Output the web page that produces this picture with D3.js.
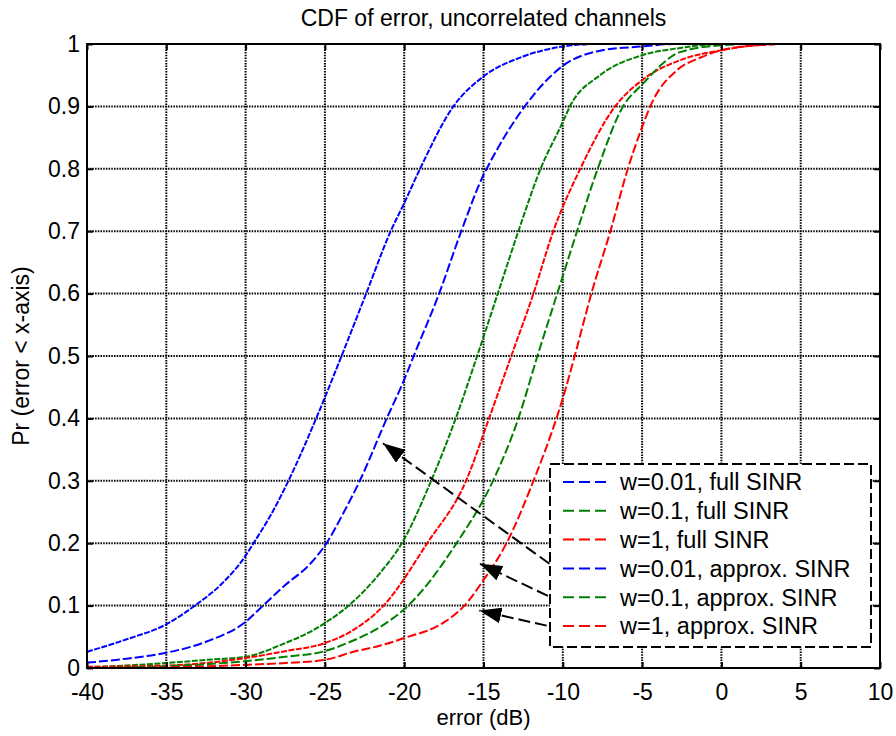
<!DOCTYPE html>
<html>
<head>
<meta charset="utf-8">
<script src="https://cdn.jsdelivr.net/npm/d3@7"></script>
<style>
	body { margin: 0; background: #fff; }
	svg text { font-family: "Liberation Sans", Arial, sans-serif; fill: #000; }
</style>
</head>
<body>
<div id="chart"></div>
<script>
'use strict';

// Data: [error dB, Pr]
var w001Full = [[-40,0.026],[-37.5,0.046],[-35,0.070],[-33.2,0.1],[-31.5,0.135],[-30,0.18],[-29.5,0.2],[-28.35,0.248],[-27.3,0.3],[-25.55,0.4],[-23.95,0.5],[-22.4,0.6],[-20.85,0.7],[-20,0.745],[-19,0.8],[-16.9,0.9],[-15,0.948],[-12.5,0.98],[-10,0.996],[-8,1],[10,1]];
var w01Full = [[-40,0.001],[-37.5,0.004],[-35,0.008],[-32.5,0.013],[-30,0.018],[-27.5,0.04],[-26,0.057],[-25,0.072],[-23.5,0.1],[-21.5,0.153],[-20.15,0.2],[-18.3,0.3],[-16.75,0.4],[-15.4,0.5],[-14.1,0.6],[-12.8,0.7],[-11.4,0.8],[-10,0.875],[-9.55,0.9],[-7.65,0.95],[-5,0.982],[-2.5,0.994],[-1.3,0.998],[0,1],[10,1]];
var w1Full = [[-40,0.002],[-35,0.004],[-32.5,0.008],[-30,0.016],[-27.5,0.027],[-25,0.04],[-23.4,0.058],[-21.3,0.1],[-18.55,0.2],[-16.1,0.3],[-14.65,0.4],[-13.25,0.5],[-11.85,0.6],[-10.6,0.7],[-8.9,0.8],[-6.7,0.9],[-5,0.942],[-2.5,0.975],[0,0.99],[2.2,0.998],[4,1],[10,1]];
var w001Approx = [[-40,0.0085],[-37.5,0.015],[-35,0.0245],[-32.5,0.042],[-30,0.074],[-28.9,0.1],[-27.5,0.133],[-26,0.165],[-24.9,0.2],[-23.8,0.25],[-22.8,0.3],[-21.1,0.4],[-20,0.462],[-19.4,0.5],[-17.8,0.6],[-16.4,0.7],[-15,0.79],[-14.8,0.8],[-12.4,0.9],[-10,0.965],[-7.5,0.99],[-5,0.996],[-3,1],[10,1]];
var w01Approx = [[-40,0],[-37.5,0.001],[-35,0.003],[-32.5,0.006],[-30,0.011],[-27.5,0.018],[-25,0.027],[-23.4,0.042],[-21.5,0.066],[-19.75,0.1],[-16.7,0.2],[-14.4,0.3],[-12.8,0.4],[-11.6,0.5],[-10.35,0.6],[-9.1,0.7],[-7.8,0.8],[-6.2,0.9],[-5,0.935],[-2.6,0.987],[0,0.998],[2,1],[10,1]];
var w1Approx = [[-40,0],[-35,0.001],[-30,0.005],[-27.5,0.008],[-25,0.013],[-23.2,0.026],[-21.5,0.036],[-20,0.048],[-17.5,0.073],[-16.2,0.1],[-15,0.141],[-13.55,0.2],[-11.85,0.3],[-10.4,0.4],[-10,0.432],[-9.25,0.5],[-8.2,0.6],[-7,0.7],[-5.9,0.8],[-5.1,0.86],[-4.3,0.91],[-2.8,0.958],[-1.35,0.978],[0,0.99],[2.3,0.998],[4,1],[10,1]];

var seriesNames = ['w=0.01, full SINR', 'w=0.1, full SINR', 'w=1, full SINR',
	'w=0.01, approx. SINR', 'w=0.1, approx. SINR', 'w=1, approx. SINR'];
var seriesValues = [w001Full, w01Full, w1Full, w001Approx, w01Approx, w1Approx];

var xTicks = [-40, -35, -30, -25, -20, -15, -10, -5, 0, 5, 10];
var xTickLabels = ['-40', '-35', '-30', '-25', '-20', '-15', '-10', '-5', '0', '5', '10'];
var yTicks = [0, 0.1, 0.2, 0.3, 0.4, 0.5, 0.6, 0.7, 0.8, 0.9, 1];
var yTickLabels = ['0', '0.1', '0.2', '0.3', '0.4', '0.5', '0.6', '0.7', '0.8', '0.9', '1'];

// Arrows: [tail x, tail y, tip x, tip y] in data units
var arrows = [[-9.97, 0.151, -21.34, 0.36], [-9.97, 0.104, -15.22, 0.167], [-9.97, 0.062, -15.26, 0.092]];

var svg = d3.select('#chart').append('svg')
	.attr('width', 896)
	.attr('height', 736);

// Dimensions
var margin = {top: 44, right: 16, bottom: 68, left: 87};
var width = +svg.attr('width') - margin.left - margin.right;
var height = +svg.attr('height') - margin.top - margin.bottom;
var g = svg.append('g').attr('transform', 'translate(' + margin.left + ',' + margin.top + ')');

// Scales
var x = d3.scaleLinear().domain([-40, 10]).range([0, width]);
var y = d3.scaleLinear().domain([0, 1]).range([height, 0]);
var color = d3.scaleOrdinal()
	.domain(seriesNames)
	.range(['#0000ff', '#008000', '#ff0000', '#0000ff', '#008000', '#ff0000']);
var dash = function(i) { return i < 3 ? '6,1.5' : '9,3'; };

svg.append('defs').append('clipPath').attr('id', 'plot-clip')
	.append('rect').attr('width', width).attr('height', height);

svg.select('defs').append('marker')
	.attr('id', 'head')
	.attr('markerUnits', 'userSpaceOnUse')
	.attr('markerWidth', 22)
	.attr('markerHeight', 16)
	.attr('refX', 22)
	.attr('refY', 8)
	.attr('orient', 'auto')
	.append('path')
		.attr('d', 'M0,0L22,8L0,16Z')
		.attr('fill', '#000');

// Grid
g.append('g').selectAll('line')
	.data(xTicks)
	.enter().append('line')
		.attr('x1', function(d) { return x(d); })
		.attr('x2', function(d) { return x(d); })
		.attr('y1', 0)
		.attr('y2', height);
g.append('g').selectAll('line')
	.data(yTicks)
	.enter().append('line')
		.attr('x1', 0)
		.attr('x2', width)
		.attr('y1', function(d) { return y(d); })
		.attr('y2', function(d) { return y(d); });
g.selectAll('line')
	.attr('stroke', '#000')
	.attr('stroke-width', 2)
	.attr('stroke-dasharray', '1.5,1.2');

// Curves
var line = d3.line()
	.x(function(d) { return x(d[0]); })
	.y(function(d) { return y(d[1]); })
	.curve(d3.curveMonotoneX);

g.append('g').attr('clip-path', 'url(#plot-clip)')
	.selectAll('path')
	.data(seriesValues)
	.enter().append('path')
		.attr('d', line)
		.attr('fill', 'none')
		.attr('stroke', function(d, i) { return color(seriesNames[i]); })
		.attr('stroke-width', 2)
		.attr('stroke-dasharray', function(d, i) { return dash(i); });

// Axes
g.append('g')
	.attr('transform', 'translate(0,' + height + ')')
	.call(d3.axisBottom(x).tickValues(xTicks).tickSize(-6).tickPadding(16)
		.tickFormat(function(d, i) { return xTickLabels[i]; }));
g.append('g')
	.call(d3.axisLeft(y).tickValues(yTicks).tickSize(-6).tickPadding(7)
		.tickFormat(function(d, i) { return yTickLabels[i]; }));
g.append('g')
	.call(d3.axisTop(x).tickValues(xTicks).tickSize(-6).tickFormat(''));
g.append('g')
	.attr('transform', 'translate(' + width + ',0)')
	.call(d3.axisRight(y).tickValues(yTicks).tickSize(-6).tickFormat(''));

g.selectAll('.domain').remove();
g.selectAll('.tick line').attr('stroke', '#000').attr('stroke-width', 2).attr('stroke-dasharray', null);
g.selectAll('.tick text').attr('font-size', 23).attr('fill', '#000');

g.append('rect')
	.attr('width', width)
	.attr('height', height)
	.attr('fill', 'none')
	.attr('stroke', '#000')
	.attr('stroke-width', 2);

// Arrows
g.append('g').selectAll('line')
	.data(arrows)
	.enter().append('line')
		.attr('x1', function(d) { return x(d[0]); })
		.attr('y1', function(d) { return y(d[1]); })
		.attr('x2', function(d) { return x(d[2]); })
		.attr('y2', function(d) { return y(d[3]); })
		.attr('stroke', '#000')
		.attr('stroke-width', 2)
		.attr('stroke-dasharray', '12,5')
		.attr('marker-end', 'url(#head)');

// Legend
var legend = g.append('g').attr('transform', 'translate(463,420)');
legend.append('rect')
	.attr('width', 321)
	.attr('height', 183)
	.attr('fill', '#fff')
	.attr('stroke', '#000')
	.attr('stroke-width', 2)
	.attr('stroke-dasharray', '10,4');

var item = legend.selectAll('.item')
	.data(seriesNames)
	.enter().append('g')
		.attr('class', 'item')
		.attr('transform', function(d, i) { return 'translate(0,' + (18 + i * 28.8) + ')'; });
item.append('line')
	.attr('x1', 13)
	.attr('x2', 57)
	.attr('stroke', function(d) { return color(d); })
	.attr('stroke-width', 2)
	.attr('stroke-dasharray', '11,5');
item.append('text')
	.attr('x', 70)
	.attr('dy', '0.36em')
	.attr('font-size', 23.5)
	.text(function(d) { return d; });

// Labels
svg.append('text')
	.attr('x', margin.left + width / 2)
	.attr('y', 26)
	.attr('text-anchor', 'middle')
	.attr('font-size', 23)
	.text('CDF of error, uncorrelated channels');

svg.append('text')
	.attr('x', margin.left + width / 2)
	.attr('y', 725)
	.attr('text-anchor', 'middle')
	.attr('font-size', 22)
	.text('error (dB)');

svg.append('text')
	.attr('transform', 'translate(29,' + (margin.top + height / 2) + ') rotate(-90)')
	.attr('text-anchor', 'middle')
	.attr('font-size', 23)
	.text('Pr (error < x-axis)');
</script>
</body>
</html>
